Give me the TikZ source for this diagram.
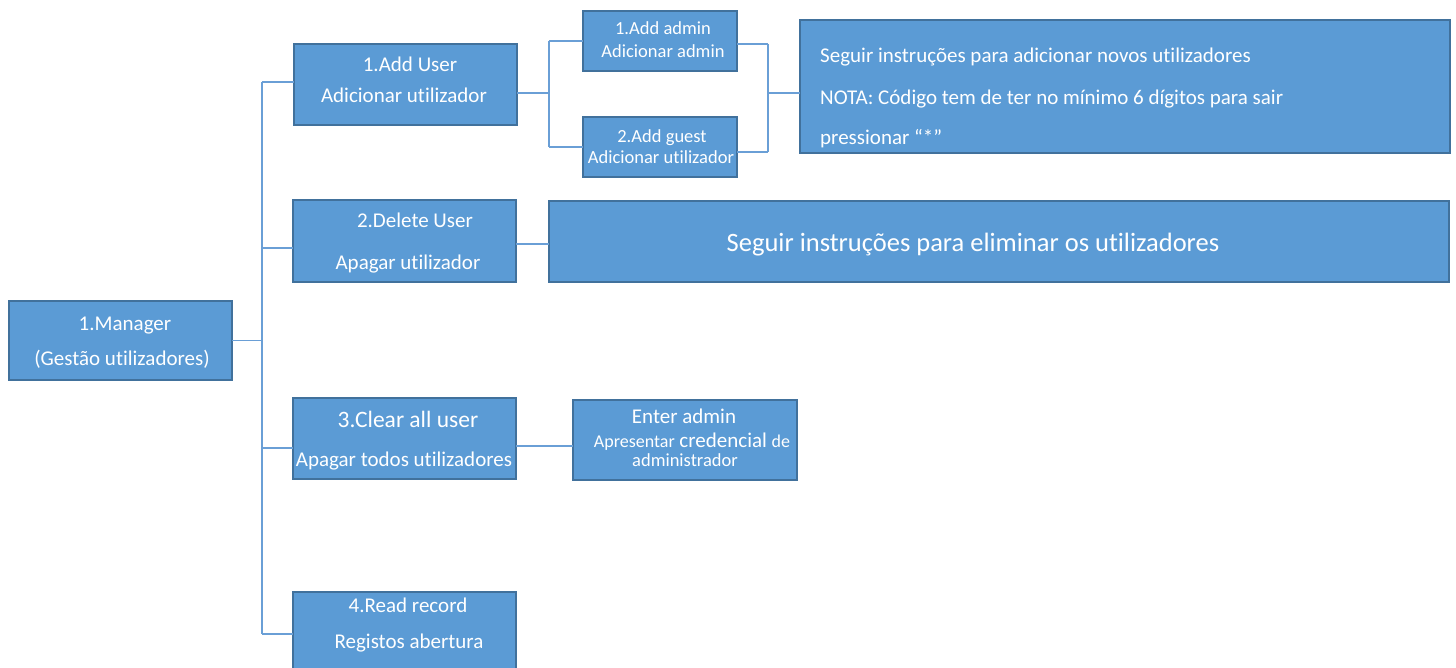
\documentclass[tikz,border=0pt]{standalone}
\usepackage{fontspec}
\setmainfont{Carlito}[Ligatures=NoCommon]
\definecolor{boxfill}{HTML}{5B9BD5}
\definecolor{boxline}{HTML}{41719C}
\definecolor{wire}{HTML}{6A9FD6}
\begin{document}
\begin{tikzpicture}[x=1pt,y=-1pt,
  box/.style={draw=boxline, line width=1.8pt, fill=boxfill, rectangle, inner sep=0pt, outer sep=0pt},
  txt/.style={text=white, inner sep=0pt, anchor=base, font=\fontsize{21}{21}\selectfont},
  stxt/.style={txt, font=\fontsize{18.5}{18.5}\selectfont},
  wirestyle/.style={draw=wire, line width=1.7pt}
]
\useasboundingbox (0,0) rectangle (1456,668);

% boxes
\node[box, minimum width=223pt, minimum height=79pt] (mgr) at (120.5,340.5) {};
\node[box, minimum width=223pt, minimum height=81pt] (adduser) at (405.5,84.5) {};
\node[box, minimum width=154pt, minimum height=60pt] (admin) at (660,41) {};
\node[box, minimum width=154pt, minimum height=60pt] (guest) at (660,147) {};
\node[box, minimum width=650pt, minimum height=133pt] (info1) at (1125,86.5) {};
\node[box, minimum width=223pt, minimum height=82pt] (deluser) at (404.5,241) {};
\node[box, minimum width=900pt, minimum height=81pt] (info2) at (999,241.5) {};
\node[box, minimum width=223pt, minimum height=81pt] (clear) at (404.5,438.5) {};
\node[box, minimum width=224pt, minimum height=80pt] (enter) at (685,440) {};
\node[box, minimum width=223pt, minimum height=82pt] (read) at (404.5,633) {};

% texts
\node[txt] (mgrA) at (125,330.7) {1.Manager};
\node[txt] (mgrB) at (122,365.7) {(Gestão utilizadores)};

\node[txt] (addA) at (410,71.7) {1.Add User};
\node[txt] (addB) at (404,102.7) {Adicionar utilizador};

\node[stxt] (adminA) at (663,35) {1.Add admin};
\node[stxt] (adminB) at (663,58) {Adicionar admin};

\node[stxt] (guestA) at (662,143) {2.Add guest};
\node[stxt] (guestB) at (661,164) {Adicionar utilizador};

\node[txt, anchor=base west] (infoA) at (820,62.7) {Seguir instruções para adicionar novos utilizadores};
\node[txt, anchor=base west] (infoB) at (820,104.7) {NOTA: Código tem de ter no mínimo 6 dígitos para sair};
\node[txt, anchor=base west] (infoC) at (820,144.7) {pressionar “*”};

\node[txt] (delA) at (415,227.7) {2.Delete User};
\node[txt] (delB) at (408,269.7) {Apagar utilizador};

\node[txt, font=\fontsize{26.5}{26.5}\selectfont] (info2A) at (973,251.3) {Seguir instruções para eliminar os utilizadores};

\node[txt, font=\fontsize{23.5}{23.5}\selectfont] (clearA) at (408,427.5) {3.Clear all user};
\node[txt] (clearB) at (404,466.7) {Apagar todos utilizadores};

\node[txt] (enterA) at (684,423.7) {Enter admin};
\node[txt] (enterB) at (692,447.5) {{\fontsize{18}{18}\selectfont Apresentar} credencial {\fontsize{18}{18}\selectfont de}};
\node[stxt] (enterC) at (685,466) {administrador};

\node[txt] (readA) at (408,612.7) {4.Read record};
\node[txt] (readB) at (409,648.7) {Registos abertura};

% connector points
\coordinate (ttop) at (262,82);
\coordinate (tbot) at (262,634);
\coordinate (tdel) at (262,248);
\coordinate (tclr) at (262,448);
\coordinate (ju) at (549,93);
\coordinate (jutop) at (549,41);
\coordinate (jubot) at (549,147);
\coordinate (jv) at (768,93);
\coordinate (jvtop) at (768,44);
\coordinate (jvbot) at (768,152);
\coordinate (jdel) at (533,244);
\coordinate (jclr) at (545,446);

% connectors
\draw[wirestyle] (ttop) -- (tbot);
\draw[wirestyle] (mgr.east) -- (mgr.east -| ttop);
\draw[wirestyle] (ttop) -- (ttop -| adduser.west);
\draw[wirestyle] (tdel) -- (tdel -| deluser.west);
\draw[wirestyle] (tclr) -- (tclr -| clear.west);
\draw[wirestyle] (tbot) -- (tbot -| read.west);

\draw[wirestyle] (ju -| adduser.east) -- (ju);
\draw[wirestyle] (jutop) -- (jubot);
\draw[wirestyle] (jutop) -- (jutop -| admin.west);
\draw[wirestyle] (jubot) -- (jubot -| guest.west);

\draw[wirestyle] (jvtop -| admin.east) -- (jvtop);
\draw[wirestyle] (jvbot -| guest.east) -- (jvbot);
\draw[wirestyle] (jvtop) -- (jvbot);
\draw[wirestyle] (jv) -- (jv -| info1.west);

\draw[wirestyle] (jdel -| deluser.east) -- (jdel -| info2.west);
\draw[wirestyle] (jclr -| clear.east) -- (jclr -| enter.west);
\end{tikzpicture}
\end{document}
